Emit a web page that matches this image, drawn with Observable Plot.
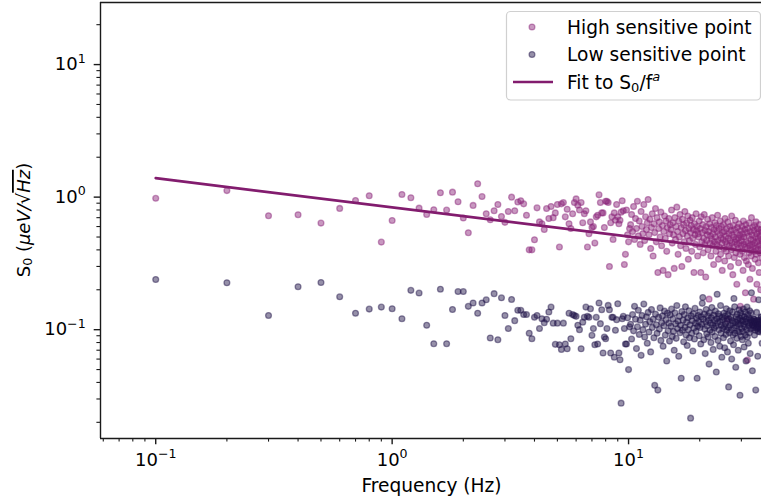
<!DOCTYPE html>
<html><head><meta charset="utf-8">
<script src="https://cdn.jsdelivr.net/npm/d3@7"></script>
<script src="https://cdn.jsdelivr.net/npm/@observablehq/plot@0.6"></script>
<style>
html,body{margin:0;padding:0;background:#fff;overflow:hidden}
#chart{width:761px;height:504px}
svg{font-family:"DejaVu Sans",sans-serif}
</style></head><body><div id="chart"></div>
<script>
// Frequencies are sampled every 0.1 Hz, starting at 0.1 Hz
const freqStepHz = 0.1;
// High sensitive point, S0 values (µeV/√Hz) for f = 0.1, 0.2, ... Hz
const highS0 = [
0.98,1.12,0.724,0.737,0.637,0.822,0.944,1.025,0.458,0.667,1.048,0.99,0.826,0.741,0.804,1.079,0.798,1.09,0.923,0.695,
0.539,0.866,1.262,1.01,0.75,0.675,0.79,0.88,0.715,0.645,0.78,1.0,0.79,0.92,0.94,0.89,0.73,0.40,0.40,0.477,
0.83,0.65,0.63,0.57,0.82,0.69,0.85,0.70,0.76,0.88,
0.42,0.89,0.91,0.71,0.81,0.63,0.58,0.75,0.91,0.97,0.87,0.80,0.91,0.64,0.75,0.79,0.42,0.53,0.65,0.59,
0.60,0.45,0.71,0.73,1.04,0.91,0.76,0.76,0.59,0.93,0.93,0.91,0.30,0.64,0.71,0.48,0.76,0.67,0.88,0.71,
0.63,0.67,0.77,0.94,0.79,0.31,0.37,0.80,0.52,0.46,0.58,
0.62,0.74,0.55,0.85,0.48,0.69,0.58,0.93,0.51,0.66,0.44,0.78,0.60,0.53,0.88,0.47,0.71,0.57,0.64,
0.96,0.52,0.68,0.41,0.59,0.75,0.36,0.63,0.54,0.82,0.46,0.70,0.27,0.58,0.65,0.50,0.77,0.43,0.61,0.28,
0.55,0.72,0.49,0.66,0.39,0.59,0.26,0.69,0.53,0.62,
0.57,0.80,0.45,0.64,0.52,0.29,0.70,0.48,0.60,0.84,0.55,0.37,0.66,0.50,0.74,0.43,0.59,0.30,0.68,0.53,
0.62,0.46,0.78,0.56,0.41,0.64,0.51,0.72,0.34,0.58,0.47,0.67,0.54,0.61,0.39,0.70,0.49,0.57,0.27,0.63,
0.52,0.44,0.75,0.56,0.60,0.36,0.53,
0.50,0.66,0.42,0.58,0.27,0.71,0.46,0.54,0.62,0.38,0.49,0.74,0.44,0.56,0.25,0.60,0.47,0.52,0.68,0.40,
0.55,0.17,0.63,0.45,0.51,0.36,0.59,0.48,0.70,0.43,0.53,0.31,0.57,0.46,0.64,0.50,0.39,0.61,0.44,0.55,
0.73,0.47,0.34,0.58,0.42,0.52,0.66,0.37,0.49,0.60,0.45,0.28,0.54,
0.48,0.62,0.41,0.55,0.33,0.69,0.46,0.51,0.39,0.58,0.44,0.12,0.65,0.49,0.36,0.53,0.43,0.60,0.47,0.30,
0.56,0.40,0.72,0.45,0.52,0.26,0.61,0.42,0.50,0.35,0.57,0.46,0.67,0.38,0.48,0.54,0.22,0.44,0.59,0.41,
0.49,0.32,0.63,0.45,0.52,0.37,0.15,0.56,0.43,0.50,
0.47,0.60,0.39,0.53,0.28,0.66,0.44,0.50,0.35,0.57,0.42,0.19,0.62,0.46,0.33,0.54,0.41,0.059,0.58,0.45,
0.31,0.51,0.38,0.64,0.43,0.24,0.55,0.40,0.48,0.36,0.70,0.44,0.52,0.29,0.59,0.42,0.47,0.17,0.56,0.39,
0.61,0.45,0.34,0.50,0.41,0.65,0.37,0.53,0.22,0.46,0.58,0.40,0.49,0.32,0.55,0.43,0.27,0.62,0.38,0.51,
0.44,0.20,0.57,0.41,0.48,0.35,0.54,0.46
];
// Low sensitive point, S0 values (µeV/√Hz) for f = 0.1, 0.2, ... Hz
const lowS0 = [
0.239,0.226,0.128,0.211,0.227,0.177,0.133,0.143,0.148,0.144,0.121,0.198,0.189,0.108,0.0784,0.202,0.0784,0.142,0.194,0.194,
0.150,0.159,0.133,0.159,0.168,0.0865,0.187,0.084,0.174,0.128,0.102,0.169,0.117,0.140,0.140,0.130,0.130,0.094,0.0855,0.124,
0.128,0.102,0.121,0.113,0.120,0.136,0.148,0.112,0.0775,0.112,0.077,0.071,
0.112,0.078,0.0718,0.133,0.0855,0.130,0.128,0.126,0.108,0.100,0.0718,0.114,0.124,0.148,0.126,0.124,0.144,0.0906,0.102,0.077,
0.124,0.078,0.159,0.111,0.1415,0.0667,0.088,0.0855,0.102,0.1525,0.1415,0.0667,0.124,0.124,0.062,0.099,0.119,0.157,0.0667,0.0593,
0.0279,0.121,0.126,0.102,0.078,0.078,0.123,0.050,0.105,
0.11,0.085,0.13,0.098,0.15,0.12,0.072,0.105,0.14,0.092,0.118,0.064,0.128,0.1,0.156,0.088,0.11,0.125,0.079,
0.135,0.096,0.115,0.068,0.142,0.104,0.12,0.087,0.038,0.131,0.109,0.094,0.035,0.124,0.101,0.146,0.083,0.113,0.127,0.075,
0.107,0.138,0.091,0.119,0.058,0.133,0.098,0.112,0.082,0.129,
0.106,0.143,0.089,0.121,0.097,0.07,0.134,0.111,0.086,0.152,0.102,0.116,0.063,0.126,0.095,0.108,0.043,0.137,0.099,0.118,
0.081,0.13,0.104,0.149,0.091,0.114,0.076,0.123,0.1,0.139,0.087,0.109,0.0215,0.127,0.094,0.117,0.069,0.132,0.103,0.085,
0.145,0.112,0.097,0.122,0.043,0.106,0.128,
0.115,0.09,0.136,0.104,0.078,0.125,0.11,0.158,0.175,0.12,0.084,0.131,0.101,0.066,0.114,0.142,0.093,0.107,0.127,0.088,
0.118,0.055,0.134,0.099,0.112,0.08,0.123,0.147,0.096,0.109,0.071,0.129,0.103,0.117,0.089,0.138,0.106,0.048,0.121,0.185,
0.113,0.083,0.132,0.1,0.126,0.075,0.115,0.152,0.094,0.108,0.062,0.124,0.102,
0.119,0.087,0.133,0.105,0.073,0.127,0.111,0.092,0.144,0.099,0.116,0.068,0.13,0.104,0.037,0.121,0.095,0.139,0.108,0.082,
0.124,0.1,0.06,0.117,0.136,0.091,0.112,0.077,0.172,0.103,0.149,0.094,0.114,0.052,0.125,0.107,0.086,0.131,0.098,0.119,
0.07,0.111,0.141,0.096,0.122,0.032,0.109,0.134,0.089,0.116,
0.102,0.127,0.084,0.118,0.097,0.143,0.11,0.074,0.125,0.105,0.136,0.091,0.115,0.058,0.121,0.1,0.148,0.088,0.112,0.13,
0.079,0.107,0.123,0.095,0.139,0.113,0.066,0.119,0.101,0.134,0.19,0.117,0.108,0.049,0.109,0.114,0.103,0.121,0.106,0.12,
0.091,0.112,0.099,0.115,0.035,0.116,0.11,0.135,0.102,0.118,0.104,0.063,0.109,0.097,0.168,0.105,0.117,0.108,0.114,0.096,
0.111,0.102,0.124,0.099,0.125,0.111,0.079,0.12
];
// Fit to S0/f^a : end points of the fitted straight line (log-log)
const fitFreq = [0.1, 40];
const fitS0 = [1.39, 0.371];

// Axis ticks
const xMajor = [0.1, 1, 10];
const xMajorExp = ["\u22121", "0", "1"];
const xMinor = [0.06,0.07,0.08,0.09,0.2,0.3,0.4,0.5,0.6,0.7,0.8,0.9,2,3,4,5,6,7,8,9,20,30];
const yMajor = [0.1, 1, 10];
const yMajorExp = ["\u22121", "0", "1"];
const yMinor = [0.02,0.03,0.04,0.05,0.06,0.07,0.08,0.09,0.2,0.3,0.4,0.5,0.6,0.7,0.8,0.9,2,3,4,5,6,7,8,9,20];
const xDomain = [0.0584, 36.5];
const yDomain = [0.0151, 29.4];

const seriesNames = ["High sensitive point", "Low sensitive point", "Fit to S0/f^a"];
const colHigh = "#8a2479";
const colLow = "#1f1448";
const colFit = "#821c6e";
const ptAlpha = 0.47;

(function draw() {
const high = highS0.map((v, i) => ({f: +((i + 1) * freqStepHz).toFixed(1), s: v}));
const low = lowS0.map((v, i) => ({f: +((i + 1) * freqStepHz).toFixed(1), s: v}));
const fit = fitFreq.map((f, i) => ({f, s: fitS0[i]}));

const FS = 18;
const LFS = 18.6;
const axisColor = "#1a1a1a";
const R = 2.9, SW = 1.3;

const plot = Plot.plot({
  width: 761, height: 504,
  marginLeft: 100, marginRight: 0, marginTop: 2, marginBottom: 66,
  style: {fontFamily: "'DejaVu Sans', sans-serif", fontSize: FS + "px", color: "#000", background: "#fff"},
  x: {type: "log", domain: xDomain},
  y: {type: "log", domain: yDomain},
  marks: [
    Plot.dot(high, {x: "f", y: "s", r: R, fill: colHigh, fillOpacity: ptAlpha, stroke: colHigh, strokeOpacity: ptAlpha, strokeWidth: SW, clip: true}),
    Plot.dot(low, {x: "f", y: "s", r: R, fill: colLow, fillOpacity: ptAlpha, stroke: colLow, strokeOpacity: ptAlpha, strokeWidth: SW, clip: true}),
    Plot.line(fit, {x: "f", y: "s", stroke: colFit, strokeWidth: 2.7, clip: true}),
    Plot.axisX(xMinor, {tickSize: 3.6, tickFormat: () => "", label: null, stroke: axisColor, strokeWidth: 1.1}),
    Plot.axisX(xMajor, {tickSize: 6.3, tickPadding: 8, tickFormat: d => xMajorExp[xMajor.indexOf(d)], label: null, stroke: axisColor, strokeWidth: 1.4, fontSize: FS}),
    Plot.axisY(yMinor, {tickSize: 3.6, tickFormat: () => "", label: null, stroke: axisColor, strokeWidth: 1.1}),
    Plot.axisY(yMajor, {tickSize: 6.3, tickPadding: 8.5, tickFormat: d => yMajorExp[yMajor.indexOf(d)], label: null, stroke: axisColor, strokeWidth: 1.4, fontSize: FS}),
    Plot.ruleX([xDomain[0]], {stroke: axisColor, strokeWidth: 1.4}),
    Plot.ruleY([yDomain[0], yDomain[1]], {stroke: axisColor, strokeWidth: 1.4})
  ]
});
document.getElementById("chart").appendChild(plot);

const svg = d3.select(plot);
// superscript tick labels: 10^e
svg.selectAll('g[aria-label="x-axis tick label"] text, g[aria-label="y-axis tick label"] text').each(function() {
  const e = this.textContent;
  if (!e) return;
  const t = d3.select(this);
  t.text(null);
  t.append("tspan").text("10");
  t.append("tspan").attr("font-size", FS * 0.7).attr("dy", "-0.62em").text(e);
});

const sx = plot.scale("x"), sy = plot.scale("y");
const pLeft = sx.range[0], pRight = 763;
const pTop = sy.range[1], pBottom = sy.range[0];

// x-axis label
svg.append("text")
  .attr("x", (pLeft + pRight) / 2).attr("y", pBottom + 54)
  .attr("text-anchor", "middle").attr("font-size", LFS).attr("fill", "#000")
  .text("Frequency (Hz)");

// y-axis label: S0 (µeV/√Hz)
const yl = svg.append("text")
  .attr("transform", `translate(25,${(pTop + pBottom) / 2}) rotate(-90)`)
  .attr("text-anchor", "middle").attr("dominant-baseline", "middle")
  .attr("font-size", FS).attr("fill", "#000");
yl.append("tspan").text("S");
yl.append("tspan").attr("font-size", FS * 0.7).attr("dy", "0.25em").text("0");
yl.append("tspan").attr("dy", "-0.175em").text(" (");
yl.append("tspan").attr("font-style", "italic").text("\u03bceV/");
yl.append("tspan").text("\u221a");
yl.append("tspan").attr("font-style", "italic").attr("style", "text-decoration: overline").text("Hz");
yl.append("tspan").text(")");

// legend (upper right)
const lg = svg.append("g").attr("text-anchor", "start");
const bx = 506.5, by = 11.5, bw = 254, bh = 88.5;
lg.append("rect").attr("x", bx).attr("y", by).attr("width", bw).attr("height", bh)
  .attr("rx", 4).attr("fill", "#fff").attr("fill-opacity", 0.8).attr("stroke", "#d0d0d0").attr("stroke-width", 1.2);
const rows = [27, 54.5, 82];
const textX = 567;
[[colHigh, 0], [colLow, 1]].forEach(([c, i]) => {
  lg.append("circle").attr("cx", 532).attr("cy", rows[i]).attr("r", R)
    .attr("fill", c).attr("fill-opacity", ptAlpha).attr("stroke", c).attr("stroke-opacity", ptAlpha).attr("stroke-width", SW);
  lg.append("text").attr("x", textX).attr("y", rows[i]).attr("dy", "0.35em").attr("text-anchor", "start")
    .attr("font-size", LFS).attr("fill", "#000").text(seriesNames[i]);
});
lg.append("line").attr("x1", 513).attr("x2", 553).attr("y1", rows[2]).attr("y2", rows[2])
  .attr("stroke", colFit).attr("stroke-width", 2.7);
const ft = lg.append("text").attr("x", textX).attr("y", rows[2]).attr("dy", "0.35em").attr("text-anchor", "start")
  .attr("font-size", LFS).attr("fill", "#000");
ft.append("tspan").text("Fit to S");
ft.append("tspan").attr("font-size", LFS * 0.7).attr("dy", "0.25em").text("0");
ft.append("tspan").attr("dy", "-0.175em").text("/f");
ft.append("tspan").attr("font-size", LFS * 0.7).attr("font-style", "italic").attr("dy", "-0.6em").text("a");
})();
</script>
</body></html>
